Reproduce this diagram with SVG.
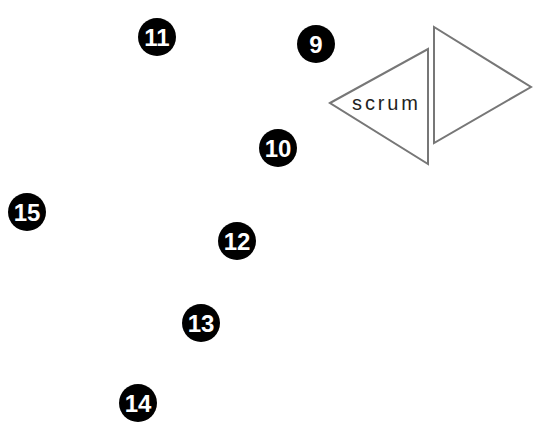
<svg xmlns="http://www.w3.org/2000/svg" width="533" height="422" viewBox="0 0 533 422">
<style>
.b{fill:#000}
.n{font-family:"Liberation Sans",Arial,sans-serif;font-size:24px;font-weight:bold;fill:#fff;text-anchor:middle}
.tri{fill:#fff;stroke:#777;stroke-width:2;stroke-linejoin:miter}
.lbl{font-family:"Liberation Sans",Arial,sans-serif;font-size:20px;fill:#222}
</style>
<rect width="533" height="422" fill="#fff"/>
<g id="scrum">
<polygon class="tri" points="330,103 428,49 428,164"/>
<polygon class="tri" points="434,27 434,143 531,87"/>
<text class="lbl" x="352" y="110" textLength="66" lengthAdjust="spacing">scrum</text>
</g>
<g id="connectors"></g>
<g id="n11"><circle class="b" cx="157" cy="37" r="19"/><text class="n" x="157" y="46">11</text></g>
<g id="n9"><circle class="b" cx="316" cy="44" r="19"/><text class="n" x="316" y="53">9</text></g>
<g id="n10"><circle class="b" cx="278" cy="148" r="19"/><text class="n" x="278" y="157">10</text></g>
<g id="n15"><circle class="b" cx="27" cy="212" r="19"/><text class="n" x="27" y="221">15</text></g>
<g id="n12"><circle class="b" cx="237" cy="241" r="19"/><text class="n" x="237" y="250">12</text></g>
<g id="n13"><circle class="b" cx="201" cy="323" r="19"/><text class="n" x="201" y="332">13</text></g>
<g id="n14"><circle class="b" cx="138" cy="403" r="19"/><text class="n" x="138" y="412">14</text></g>
</svg>
